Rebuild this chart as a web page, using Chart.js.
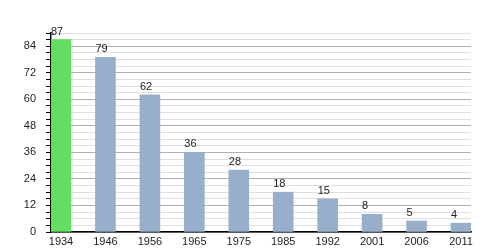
<!DOCTYPE html>
<html>
<head>
  <meta charset="UTF-8" />
  <title>Population</title>
  <script src="https://cdn.jsdelivr.net/npm/chart.js"></script>
  <style>
    body { margin: 0; padding: 0; background: #ffffff; }
    .wrap { width: 500px; height: 250px; }
  </style>
</head>
<body>
  <div class="wrap"><canvas id="chart"></canvas></div>

  <script>
    const years = ['1934', '1946', '1956', '1965', '1975', '1985', '1992', '2001', '2006', '2011'];
    const population = [87, 79, 62, 36, 28, 18, 15, 8, 5, 4];
    const barColors = ['#62df62', '#97afcb', '#97afcb', '#97afcb', '#97afcb', '#97afcb', '#97afcb', '#97afcb', '#97afcb', '#97afcb'];

    const fontFamily = '"Liberation Sans", Arial, sans-serif';

    // value labels over each bar (left aligned with the bar edge)
    const valueLabels = {
      id: 'valueLabels',
      afterDatasetsDraw(chart) {
        const ctx = chart.ctx;
        const meta = chart.getDatasetMeta(0);
        ctx.save();
        ctx.font = '11px ' + fontFamily;
        ctx.fillStyle = '#222';
        ctx.textAlign = 'left';
        ctx.textBaseline = 'alphabetic';
        meta.data.forEach((bar, i) => {
          ctx.fillText(population[i], bar.x - bar.width / 2, bar.y - 5);
        });
        ctx.restore();
      }
    };

    const ctx = document.getElementById('chart').getContext('2d');
    new Chart(ctx, {
      type: 'bar',
      data: {
        datasets: [{
          data: population.map((v, i) => ({ x: i, y: v })),
          backgroundColor: barColors,
          barThickness: 20
        }]
      },
      options: {
        responsive: true,
        maintainAspectRatio: false,
        animation: false,
        layout: { padding: { top: 33, right: 29, left: 0, bottom: 0 } },
        plugins: {
          legend: { display: false },
          tooltip: { enabled: false }
        },
        scales: {
          x: {
            type: 'linear',
            offset: false,
            min: -0.225,
            max: 9.225,
            grid: { display: false, drawTicks: false, tickLength: 0 },
            border: { color: '#000', width: 1.5 },
            afterBuildTicks: s => { s.ticks = years.map((y, i) => ({ value: i })); },
            afterFit: s => { s.height = 18; },
            ticks: {
              autoSkip: false,
              maxRotation: 0,
              padding: 3,
              color: '#222',
              font: { family: fontFamily, size: 11 },
              callback: v => years[v]
            }
          },
          y: {
            min: 0,
            max: 90,
            grid: {
              color: c => c.tick.value % 12 === 0 ? '#b0b0b0' : '#e0e0e0',
              tickColor: '#000',
              tickLength: 5
            },
            border: { color: '#000', width: 1.5 },
            afterFit: s => { s.width = 51; },
            ticks: {
              stepSize: 3,
              autoSkip: false,
              padding: 10,
              color: '#222',
              font: { family: fontFamily, size: 11 },
              callback: v => v % 12 === 0 ? v : ''
            }
          }
        }
      },
      plugins: [valueLabels]
    });
  </script>
</body>
</html>
